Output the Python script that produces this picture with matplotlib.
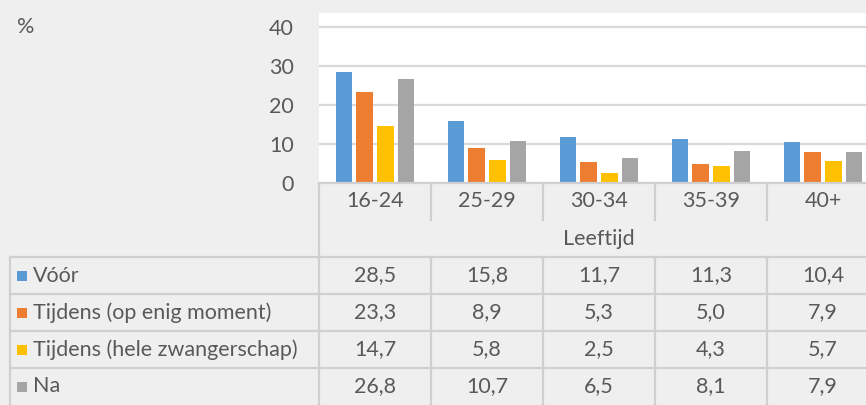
import matplotlib
matplotlib.use("Agg")
import matplotlib.pyplot as plt
from matplotlib.transforms import blended_transform_factory
from matplotlib.patches import Rectangle

# --- data ---
leeftijd = ["16-24", "25-29", "30-34", "35-39", "40+"]
reeksen = ["Vóór", "Tijdens (op enig moment)", "Tijdens (hele zwangerschap)", "Na"]
voor = [28.5, 15.8, 11.7, 11.3, 10.4]
tijdens_moment = [23.3, 8.9, 5.3, 5.0, 7.9]
tijdens_hele = [14.7, 5.8, 2.5, 4.3, 5.7]
na = [26.8, 10.7, 6.5, 8.1, 7.9]
y_ticks = [0, 10, 20, 30, 40]

waarden = [voor, tijdens_moment, tijdens_hele, na]
kleuren = ["#5B9BD5", "#ED7D31", "#FFC000", "#A5A5A5"]

W, H = 866, 405
BG = "#EFEFEF"
TXT = "#595959"
LIJN = "#D0D0D0"
FS = 15.5

plt.rcParams["font.family"] = ["Lato", "DejaVu Sans"]

fig = plt.figure(figsize=(W / 100, H / 100), dpi=100, facecolor=BG)

def fy(py):
    # pixel row (from top) -> figure fraction
    return 1 - py / H

# plot area runs past the right edge of the picture, like the reference
ax_left, ax_right, ax_top, ax_bot = 319, 879, 13, 183
ax = fig.add_axes([ax_left / W, fy(ax_bot), (ax_right - ax_left) / W, (ax_bot - ax_top) / H])
ax.set_facecolor("white")

x = list(range(len(leeftijd)))
stap, breedte = 0.185, 0.148
for i, (vals, kleur) in enumerate(zip(waarden, kleuren)):
    pos = [xi + (i - 1.5) * stap for xi in x]
    ax.bar(pos, vals, width=breedte, color=kleur, zorder=3)

ax.set_xlim(-0.5, len(leeftijd) - 0.5)
ax.set_ylim(0, 43.6)
ax.set_yticks(y_ticks)
ax.set_yticklabels([str(t) for t in y_ticks], fontsize=FS, color=TXT)
ax.tick_params(axis="y", length=0, pad=18)
ax.set_xticks([])
ax.grid(axis="y", color="#D9D9D9", linewidth=1.6, zorder=0)
for s in ax.spines.values():
    s.set_visible(False)

# x in data units of the axes, y in figure fraction
tr = blended_transform_factory(ax.transData, fig.transFigure)
lw = 1.6

def hlijn(py, x0, x1, trans=tr):
    fig.add_artist(plt.Line2D([x0, x1], [fy(py), fy(py)], transform=trans, color=LIJN, lw=lw))

def vlijn(xd, y0, y1, trans=tr):
    fig.add_artist(plt.Line2D([xd, xd], [fy(y0), fy(y1)], transform=trans, color=LIJN, lw=lw))

# category row
hlijn(ax_bot, -0.5, len(leeftijd) - 0.5)
vlijn(-0.5, ax_bot, H)
for xi, lab in zip(x, leeftijd):
    fig.text(xi, fy(201), lab, transform=tr, ha="center", va="center", fontsize=FS, color=TXT)
for xi in x[:-1]:
    vlijn(xi + 0.5, ax_bot, 220)
fig.text((len(leeftijd) - 1) / 2, fy(239), "Leeftijd", transform=tr, ha="center", va="center",
         fontsize=FS, color=TXT)

# data table
rij_top = 257
rij_h = 37
fig.add_artist(plt.Line2D([10 / W, 10 / W], [fy(rij_top), 0], transform=fig.transFigure, color=LIJN, lw=lw))
fig.add_artist(plt.Line2D([10 / W, ax_left / W], [fy(rij_top), fy(rij_top)], transform=fig.transFigure,
                          color=LIJN, lw=lw))
hlijn(rij_top, -0.5, len(leeftijd) - 0.5)
for xi in x[:-1]:
    vlijn(xi + 0.5, rij_top, H)
for r, (naam, vals, kleur) in enumerate(zip(reeksen, waarden, kleuren)):
    yc = rij_top + rij_h * (r + 0.5)
    if r > 0:
        y_l = rij_top + rij_h * r
        fig.add_artist(plt.Line2D([10 / W, ax_left / W], [fy(y_l), fy(y_l)], transform=fig.transFigure,
                                  color=LIJN, lw=lw))
        hlijn(y_l, -0.5, len(leeftijd) - 0.5)
    fig.add_artist(Rectangle((17 / W, fy(yc + 5)), 10 / W, 10 / H, transform=fig.transFigure,
                             facecolor=kleur, edgecolor="none"))
    fig.text(33 / W, fy(yc), naam, ha="left", va="center", fontsize=FS, color=TXT)
    for xi, v in zip(x, vals):
        fig.text(xi, fy(yc), f"{v:.1f}".replace(".", ","), transform=tr, ha="center", va="center",
                 fontsize=FS, color=TXT)

fig.text(17 / W, fy(27), "%", ha="left", va="center", fontsize=FS, color=TXT)

fig.savefig("out.png", dpi=100, facecolor=BG)
